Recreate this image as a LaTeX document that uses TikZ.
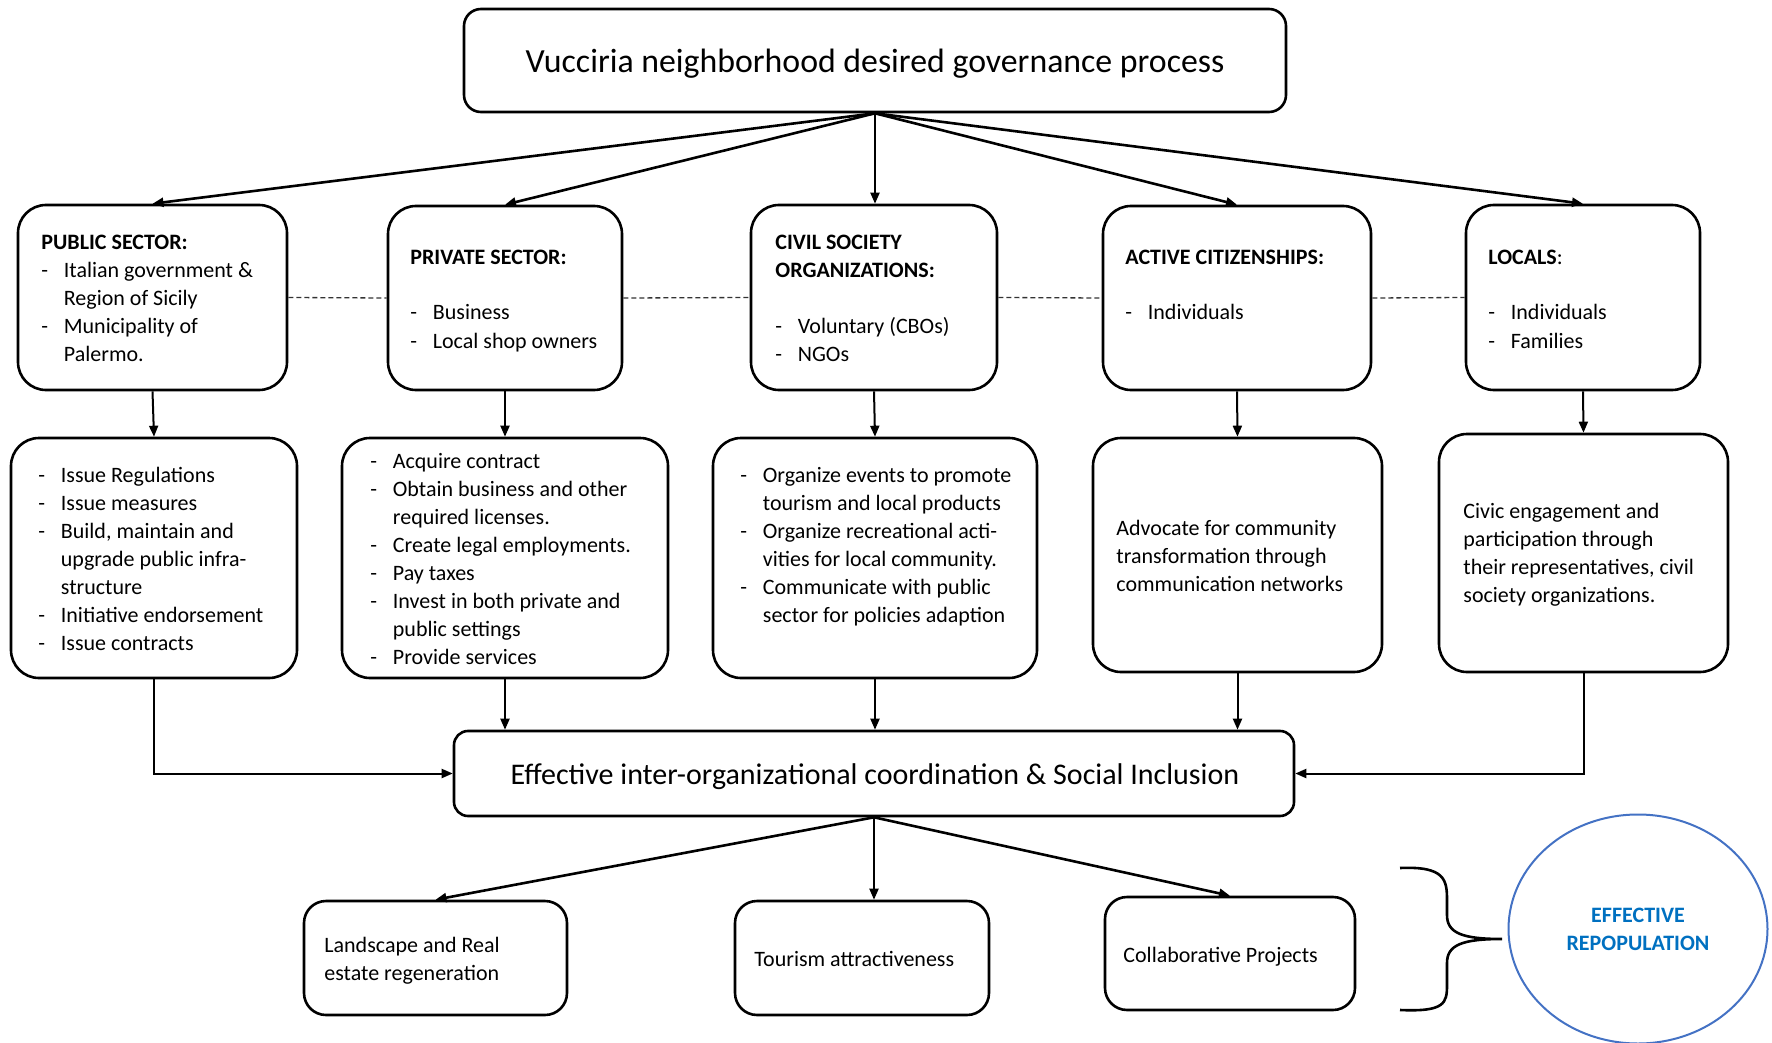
\documentclass[tikz,border=0pt]{standalone}
\usepackage{fontspec}
\setmainfont{Carlito}
\usetikzlibrary{arrows.meta,shapes.geometric}
\definecolor{repoblue}{RGB}{0,112,192}
\definecolor{ringblue}{RGB}{68,114,196}
\newcommand\lidash{\makebox[11.25pt][l]{-}}
\newcommand\liind{\hspace*{11.25pt}}

\begin{document}
\begin{tikzpicture}[x=0.5pt,y=-0.5pt,
  box/.style={draw, line width=1.3pt, rounded corners=14pt, inner sep=0pt},
  topbox/.style={box, rounded corners=8.5pt},
  midbox/.style={box, rounded corners=7pt},
  endbox/.style={box, rounded corners=11pt},
  txt/.style={anchor=north west, inner sep=0pt, align=left, font=\fontsize{11}{14}\selectfont},
  arr/.style={line width=1.3pt, -{Triangle[length=5.5pt,width=4.5pt]}},
  varr/.style={line width=1pt, -{Triangle[length=5.5pt,width=4.5pt]}},
  dsh/.style={line width=0.65pt, dash pattern=on 2.5pt off 1.5pt, black!80}
]
\useasboundingbox (0,0) rectangle (1772,1043);

% title and first row of actors
\node[topbox, minimum width=411pt, minimum height=51.5pt] (top) at (875,60.5) {};
\node[inner sep=0pt, font=\fontsize{16.9}{20}\selectfont] (topT) at (875,64)
  {Vucciria neighborhood desired governance process};

\node[box, minimum width=134.5pt, minimum height=92.5pt] (pub)  at (152.5,297.5) {};
\node[box, minimum width=117pt,   minimum height=92pt]   (priv) at (505,298) {};
\node[box, minimum width=123pt,   minimum height=92.5pt] (civ)  at (874,297.5) {};
\node[box, minimum width=134pt,   minimum height=92pt]   (act)  at (1237,298) {};
\node[box, minimum width=117pt,   minimum height=92.5pt] (loc)  at (1583,297.5) {};

\node[txt] (pubT) at (41,229.4) {\strut\textbf{PUBLIC SECTOR:}\\
  \lidash Italian government \&\\ \liind Region of Sicily\\
  \lidash Municipality of\\ \liind Palermo.};
\node[txt] (privT) at (410,244) {\strut\textbf{PRIVATE SECTOR:}\\ \mbox{}\\
  \lidash Business\\ \lidash Local shop owners};
\node[txt] (civT) at (775,229.4) {\strut\textbf{CIVIL SOCIETY}\\ \textbf{ORGANIZATIONS:}\\ \mbox{}\\
  \lidash Voluntary (CBOs)\\ \lidash NGOs};
\node[txt] (actT) at (1125,244) {\strut\textbf{ACTIVE CITIZENSHIPS:}\\ \mbox{}\\
  \lidash Individuals};
\node[txt] (locT) at (1488,244) {\strut\textbf{LOCALS}:\\ \mbox{}\\
  \lidash Individuals\\ \lidash Families};

% second row: roles of each actor
\node[box, minimum width=143pt,   minimum height=120pt] (pubA)  at (154,558) {};
\node[box, minimum width=163pt,   minimum height=120pt] (privA) at (505,558) {};
\node[box, minimum width=162pt,   minimum height=120pt] (civA)  at (875,558) {};
\node[box, minimum width=144.5pt, minimum height=117pt] (actA)  at (1237.5,555) {};
\node[box, minimum width=144.5pt, minimum height=119pt] (locA)  at (1583.5,553) {};

\node[txt] (pubAT) at (38,462) {\strut\lidash Issue Regulations\\ \lidash Issue measures\\
  \lidash Build, maintain and\\ \liind upgrade public infra-\\ \liind structure\\
  \lidash Initiative endorsement\\ \lidash Issue contracts};
\node[txt] (privAT) at (370,448) {\strut\lidash Acquire contract\\ \lidash Obtain business and other\\
  \liind required licenses.\\ \lidash Create legal employments.\\ \lidash Pay taxes\\
  \lidash Invest in both private and\\ \liind public settings\\ \lidash Provide services};
\node[txt] (civAT) at (740,462) {\strut\lidash Organize events to promote\\ \liind tourism and local products\\
  \lidash Organize recreational acti-\\ \liind vities for local community.\\
  \lidash Communicate with public\\ \liind sector for policies adaption};
\node[txt] (actAT) at (1116,515) {\strut Advocate for community\\ transformation through\\ communication networks};
\node[txt] (locAT) at (1463,498) {\strut Civic engagement and\\ participation through\\
  their representatives, civil\\ society organizations.};

% coordination and outcomes
\node[midbox, minimum width=420pt, minimum height=42.5pt] (coord) at (874,773.5) {};
\node[inner sep=0pt, font=\fontsize{15}{18}\selectfont] (coordT) at (875,777)
  {Effective inter-organizational coordination \& Social Inclusion};

\node[endbox, minimum width=131.5pt, minimum height=57pt]   (land) at (435.5,958) {};
\node[endbox, minimum width=127pt,   minimum height=57pt]   (tour) at (862,958) {};
\node[endbox, minimum width=125pt,   minimum height=56.5pt] (coll) at (1230,953.5) {};
\node[txt] (landT) at (324,932) {\strut Landscape and Real\\ estate regeneration};
\node[txt] (tourT) at (754,946) {\strut Tourism attractiveness};
\node[txt] (collT) at (1123,942) {\strut Collaborative Projects};

\node[ellipse, draw=ringblue, line width=1pt, minimum width=129.5pt, minimum height=114.5pt, inner sep=0pt,
  align=center, text=repoblue, font=\fontsize{11}{14}\selectfont\bfseries] (repo) at (1638,929)
  {EFFECTIVE\\ REPOPULATION};

% connectors
\foreach \n in {pub,priv,act,loc} \draw[arr] (top.south) -- (\n.north);
\draw[varr] (top.south) -- (top.south |- civ.north);

\draw[dsh] (pub.east) -- (priv.west);
\draw[dsh] (priv.east) -- (civ.west);
\draw[dsh] (civ.east) -- (act.west);
\draw[dsh] (act.east) -- (loc.west);

\foreach \n in {pub,priv,civ,act,loc} \draw[varr] (\n.south) -- (\n A.north);

\draw[varr] (pubA.south) |- (coord.west);
\draw[varr] (locA.south) |- (coord.east);
\foreach \n in {privA,civA,actA} \draw[varr] (\n.south) -- (\n.south |- coord.north);

\draw[arr] (coord.south) -- (land.north);
\draw[varr] (coord.south) -- (coord.south |- tour.north);
\draw[arr] (coord.south) -- (coll.north);

% brace gathering the outcomes
\coordinate (bracetip) at (1502,939);
\draw[line width=1.3pt] (1400,868) .. controls (1445,866) and (1447,880) .. (1447,900)
  -- (1447,915) .. controls (1447,933) and (1462,939) .. (bracetip)
  .. controls (1462,939) and (1447,945) .. (1447,963)
  -- (1447,985) .. controls (1447,1003) and (1445,1012) .. (1400,1010);
\end{tikzpicture}
\end{document}
